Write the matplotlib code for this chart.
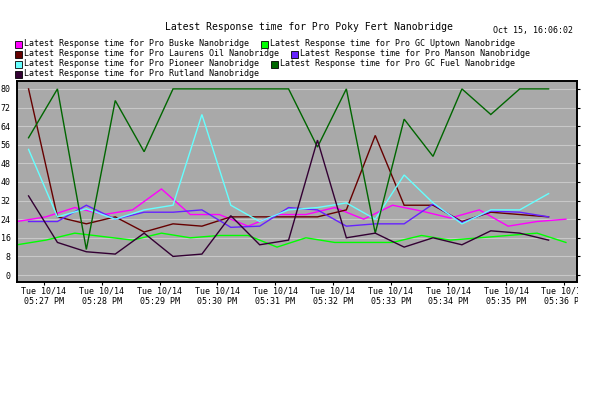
import matplotlib
matplotlib.use("Agg")
import matplotlib.pyplot as plt
import numpy as np
from matplotlib.patches import Rectangle
from matplotlib.transforms import Bbox, TransformedBbox

# Data: response times sampled every 30 s (two sampling grids)
step_s = 30
start_a = -28   # seconds relative to 05:27:00 PM
start_b = -16

buske = [23, 25, 29, 26, 28, 37, 26, 26, 21, 26, 26, 29, 24, 30, 27.5, 24.5, 28, 21, 23, 24]
gc_uptown = [13, 15, 18, 16.5, 15, 18, 16, 17, 17, 12, 16, 14, 14, 14, 17, 15, 16, 17, 18, 14]
laurens = [80, 25, 22, 25, 18.5, 22, 21, 25, 25, 25, 25, 28, 60, 30, 30, 23, 27, 26, 25]
manson = [23, 23, 30, 24, 27, 27, 28, 20.5, 21, 29, 28, 21, 22, 22, 30.5, 22.5, 27.5, 27, 25]
pioneer = [54, 25, 28.5, 24, 28, 30, 69, 30, 23, 28, 29, 31, 24, 43, 31, 22, 28, 28, 35]
gc_fuel = [59, 80, 11, 75, 53, 80, 80, 80, 80, 80, 55, 80, 18, 67, 51, 80, 69, 80, 80]
rutland = [34, 14, 10, 9, 18, 8, 9, 25.5, 13, 15, 58, 16, 18, 12, 16, 13, 19, 18, 15]

names = ["Buske", "GC Uptown", "Laurens Oil", "Manson", "Pioneer", "GC Fuel", "Rutland"]
series = [buske, gc_uptown, laurens, manson, pioneer, gc_fuel, rutland]
starts = [start_a, start_a, start_b, start_b, start_b, start_b, start_b]
colors = ["#ff00ff", "#00ff00", "#660000", "#6622ff", "#66ffff", "#006600", "#330033"]

tick_times = ["05:27 PM", "05:28 PM", "05:29 PM", "05:30 PM", "05:31 PM",
              "05:32 PM", "05:33 PM", "05:34 PM", "05:35 PM", "05:36 PM"]
tick_date = "Tue 10/14"
yticks = [0, 8, 16, 24, 32, 40, 48, 56, 64, 72, 80]

title = "Latest Response time for Pro Poky Fert Nanobridge"
stamp = "Oct 15, 16:06:02"

W, H = 616, 393
mono = "DejaVu Sans Mono"
plt.rcParams["font.family"] = mono

fig = plt.figure(figsize=(W / 100, H / 100), dpi=100)
fig.patch.set_facecolor("white")
ax = fig.add_axes([17 / W, 1 - 282 / H, 560 / W, 201 / H])
ax.set_facecolor("#a9a9a9")

for vals, st, c in zip(series, starts, colors):
    x = (st + step_s * np.arange(len(vals))) / 60.0
    ax.plot(x, vals, color=c, lw=1.0, solid_joinstyle="miter")

ax.set_xlim(-28 / 60, 553.5 / 60)
ax.set_ylim(-3, 83.4)
ax.set_yticks(yticks)
ax.set_yticklabels([str(v) for v in yticks])
ax.yaxis.grid(True, color="#c8c8c8", lw=0.8)
ax.set_axisbelow(True)
ax.tick_params(axis="y", left=False, right=True, direction="out", length=2.5,
               labelsize=6, pad=2, width=0.8)
ax.set_xticks(np.arange(len(tick_times)))
ax.set_xticklabels([tick_date + "\n" + t for t in tick_times], linespacing=1.3)
ax.tick_params(axis="x", direction="out", length=2, labelsize=6, pad=1, width=0.8)
for sp in ax.spines.values():
    sp.set_linewidth(1.4)
    sp.set_color("black")

# clip the x labels at the right edge of the plot, as in the original
clip = TransformedBbox(Bbox.from_extents(0, 0, 578 / W, 1), fig.transFigure)
for lab in ax.get_xticklabels():
    lab.set_clip_box(clip)
    lab.set_clip_on(True)

fig.text(309 / W, 1 - 27 / H, title, ha="center", va="center", fontsize=7)
fig.text(493 / W, 1 - 30 / H, stamp, ha="left", va="center", fontsize=6)

# legend, drawn by hand in rows
rows = [[0, 1], [2, 3], [4, 5], [6]]
row_y = [44, 54, 64, 74]
renderer = fig.canvas.get_renderer()
for row, yc in zip(rows, row_y):
    xp = 15
    for i in row:
        fig.patches.append(Rectangle((xp / W, 1 - (yc + 3.5) / H), 7 / W, 7 / H,
                                     transform=fig.transFigure, facecolor=colors[i],
                                     edgecolor="black", lw=0.6))
        t = fig.text((xp + 9) / W, 1 - yc / H,
                     "Latest Response time for Pro " + names[i] + " Nanobridge",
                     ha="left", va="center", fontsize=6)
        xp = t.get_window_extent(renderer).x1 + 12

fig.savefig("out.png", dpi=100)
